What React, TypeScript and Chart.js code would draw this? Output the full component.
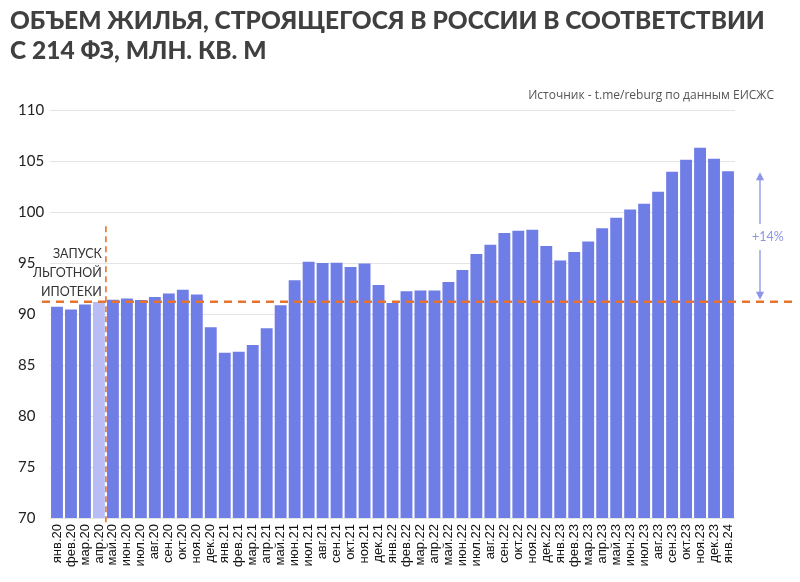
import React, { useEffect, useRef } from "react";
import { Chart, registerables } from "chart.js";

Chart.register(...registerables);

const LABELS = [
  "янв.20","фев.20","мар.20","апр.20","май.20","июн.20","июл.20","авг.20","сен.20","окт.20","ноя.20","дек.20",
  "янв.21","фев.21","мар.21","апр.21","май.21","июн.21","июл.21","авг.21","сен.21","окт.21","ноя.21","дек.21",
  "янв.22","фев.22","мар.22","апр.22","май.22","июн.22","июл.22","авг.22","сен.22","окт.22","ноя.22","дек.22",
  "янв.23","фев.23","мар.23","апр.23","май.23","июн.23","июл.23","авг.23","сен.23","окт.23","ноя.23","дек.23",
  "янв.24",
];

const VALUES = [
  90.7, 90.45, 90.94, 91.18, 91.4, 91.53, 91.37, 91.67, 92.02, 92.38, 91.92, 88.69,
  86.2, 86.3, 86.96, 88.6, 90.85, 93.3, 95.13, 95.0, 95.03, 94.6, 94.96, 92.84,
  91.08, 92.22, 92.3, 92.3, 93.14, 94.31, 95.88, 96.8, 97.94, 98.17, 98.26, 96.66,
  95.25, 96.08, 97.12, 98.4, 99.44, 100.25, 100.8, 101.99, 103.95, 105.13, 106.3, 105.22,
  104.0,
];

const BASE_VALUE = 91.2;
const HIGHLIGHT_INDEX = 3;
const Y_MIN = 70;
const Y_MAX = 110;
const Y_STEP = 5;

const TITLE_LINES = ["ОБЪЕМ ЖИЛЬЯ, СТРОЯЩЕГОСЯ В РОССИИ В СООТВЕТСТВИИ", "С 214 ФЗ, МЛН. КВ. М"];
const SOURCE = "Источник - t.me/reburg по данным ЕИСЖС";
const NOTE_LINES = ["ЗАПУСК", "ЛЬГОТНОЙ", "ИПОТЕКИ"];
const GROWTH_LABEL = "+14%";

const BAR = "#6f7de6";
const BAR_LIGHT = "#b9bdf5";
const ORANGE = "#e8732c";
const ARROW = "#8a95e8";

const overlay = {
  id: "overlay",
  afterDraw(chart: any) {
    const { ctx, scales } = chart;
    const x = scales.x;
    const y = scales.y;
    ctx.save();

    // Title
    ctx.fillStyle = "#404040";
    ctx.font = "900 24.5px Lato";
    ctx.textAlign = "left";
    ctx.textBaseline = "alphabetic";
    ctx.fillText(TITLE_LINES[0], 10, 29);
    ctx.fillText(TITLE_LINES[1], 10, 59);

    // Source
    ctx.fillStyle = "#555";
    ctx.font = "12px 'Open Sans'";
    ctx.textAlign = "right";
    ctx.fillText(SOURCE, 774, 99);

    // Horizontal dashed base line
    const by = y.getPixelForValue(BASE_VALUE);
    ctx.strokeStyle = ORANGE;
    ctx.lineWidth = 2.6;
    ctx.setLineDash([8, 6]);
    ctx.beginPath();
    ctx.moveTo(42, by);
    ctx.lineTo(792, by);
    ctx.stroke();

    // Vertical dashed line
    const vx = (x.getPixelForValue(HIGHLIGHT_INDEX) + x.getPixelForValue(HIGHLIGHT_INDEX + 1)) / 2;
    ctx.lineWidth = 1.6;
    ctx.setLineDash([6, 4]);
    ctx.beginPath();
    ctx.moveTo(vx, y.getPixelForValue(98.6));
    ctx.lineTo(vx, 524);
    ctx.stroke();
    ctx.setLineDash([]);

    // Note text
    ctx.fillStyle = "#333";
    ctx.font = "12.5px Lato";
    ctx.textAlign = "right";
    ctx.fillText(NOTE_LINES[0], vx - 4, 258);
    ctx.fillText(NOTE_LINES[1], vx - 4, 277);
    ctx.fillText(NOTE_LINES[2], vx - 4, 296);

    // Arrow
    const ax = 760;
    const topY = y.getPixelForValue(VALUES[VALUES.length - 1]) + 1;
    const botY = by - 2;
    const midY = 237;
    ctx.strokeStyle = ARROW;
    ctx.fillStyle = ARROW;
    ctx.lineWidth = 1.3;
    ctx.beginPath();
    ctx.moveTo(ax, topY + 6);
    ctx.lineTo(ax, midY - 13);
    ctx.moveTo(ax, midY + 13);
    ctx.lineTo(ax, botY - 6);
    ctx.stroke();
    ctx.beginPath();
    ctx.moveTo(ax, topY);
    ctx.lineTo(ax - 4, topY + 8);
    ctx.lineTo(ax + 4, topY + 8);
    ctx.closePath();
    ctx.fill();
    ctx.beginPath();
    ctx.moveTo(ax, botY);
    ctx.lineTo(ax - 4, botY - 8);
    ctx.lineTo(ax + 4, botY - 8);
    ctx.closePath();
    ctx.fill();
    ctx.font = "12.5px Lato";
    ctx.textAlign = "center";
    ctx.textBaseline = "middle";
    ctx.fillText(GROWTH_LABEL, 768, midY);

    ctx.restore();
  },
};

export default function App() {
  const ref = useRef<HTMLCanvasElement | null>(null);
  useEffect(() => {
    if (!ref.current) return;
    const chart = new Chart(ref.current, {
      type: "bar",
      data: {
        labels: LABELS,
        datasets: [
          {
            data: VALUES,
            backgroundColor: VALUES.map((_, i) => (i === HIGHLIGHT_INDEX ? BAR_LIGHT : BAR)),
            barPercentage: 0.85,
            categoryPercentage: 1,
          },
        ],
      },
      options: {
        animation: false,
        responsive: false,
        maintainAspectRatio: false,
        layout: { padding: { left: 18, top: 110, right: 65, bottom: 0 } },
        plugins: { legend: { display: false }, tooltip: { enabled: false }, title: { display: false } },
        scales: {
          x: {
            grid: { display: false, drawTicks: false },
            border: { display: false },
            ticks: {
              autoSkip: false,
              minRotation: 90,
              maxRotation: 90,
              padding: 6,
              color: "#111",
              font: { family: "'Liberation Sans'", size: 13 },
            },
            afterFit(axis: any) {
              axis.height = 64;
            },
          },
          y: {
            min: Y_MIN,
            max: Y_MAX,
            grid: { color: "#e4e4e4", drawTicks: false, lineWidth: 1 },
            border: { display: false },
            ticks: {
              stepSize: Y_STEP,
              crossAlign: "far",
              padding: 0,
              color: "#222",
              font: { family: "Lato", size: 15 },
            },
            afterFit(axis: any) {
              axis.width = 32;
            },
          },
        },
      },
      plugins: [overlay],
    });
    return () => chart.destroy();
  }, []);
  return (
    <div style={{ position: "fixed", left: 0, top: 0, width: 800, height: 582, background: "#fff" }}>
      <canvas ref={ref} width={800} height={582} style={{ width: 800, height: 582 }} />
    </div>
  );
}
